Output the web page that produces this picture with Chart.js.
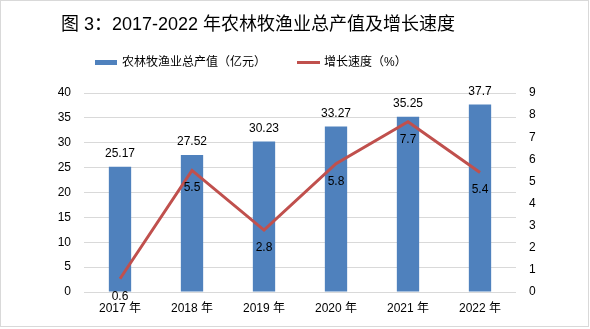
<!DOCTYPE html>
<html><head><meta charset="utf-8">
<script src="https://cdn.jsdelivr.net/npm/chart.js@4/dist/chart.umd.min.js"></script>
<style>html,body{margin:0;padding:0;background:#fff}#wrap{width:590px;height:329px}</style>
</head><body><div id="wrap"><canvas id="c" width="590" height="329"></canvas></div>
<script>
const categories = ['2017 年','2018 年','2019 年','2020 年','2021 年','2022 年'];
const outputValues = [25.17, 27.52, 30.23, 33.27, 35.25, 37.7];
const growthRates = [0.6, 5.5, 2.8, 5.8, 7.7, 5.4];
const titleText = '图 3：2017-2022 年农林牧渔业总产值及增长速度';
const barLabel = '农林牧渔业总产值（亿元）';
const lineLabel = '增长速度（%）';

const BAR = '#4f81bd', LINE = '#c0504d';
const NUM_FONT = '12px "Liberation Sans", Arial, sans-serif';
const CJK = '"Liberation Sans", "Noto Sans CJK SC", sans-serif';

const deco = {
  id:'deco',
  afterDraw(chart){
    const ctx = chart.ctx;
    ctx.save();
    ctx.strokeStyle = '#d9d9d9'; ctx.lineWidth = 1;
    ctx.strokeRect(0.5,0.5,588,326);
    // title
    ctx.fillStyle = '#000';
    ctx.font = '18px ' + CJK;
    ctx.textBaseline = 'middle'; ctx.textAlign = 'center';
    ctx.fillText(titleText, 258, 25);
    // legend
    ctx.font = '12px ' + CJK;
    ctx.textAlign = 'left';
    ctx.fillStyle = BAR; ctx.fillRect(95, 60, 22, 5);
    ctx.fillStyle = '#000'; ctx.fillText(barLabel, 122, 62.5);
    ctx.fillStyle = LINE; ctx.fillRect(297, 61, 23, 3);
    ctx.fillStyle = '#000'; ctx.fillText(lineLabel, 324, 62.5);
    // data labels
    ctx.font = NUM_FONT; ctx.textAlign = 'center';
    const m0 = chart.getDatasetMeta(0), m1 = chart.getDatasetMeta(1);
    m0.data.forEach((b,i)=>{ ctx.fillText(String(outputValues[i]), b.x, b.y - 13); });
    m1.data.forEach((p,i)=>{ ctx.fillText(String(growthRates[i]), p.x, p.y + 17.5); });
    ctx.restore();
  }
};

new Chart(document.getElementById('c'), {
  data:{
    labels: categories,
    datasets:[
      {type:'bar', label:barLabel, data:outputValues, backgroundColor:BAR, yAxisID:'y', barPercentage:0.31, categoryPercentage:1, order:2},
      {type:'line', label:lineLabel, data:growthRates, borderColor:LINE, borderWidth:3, pointRadius:0, tension:0, yAxisID:'y1', order:1}
    ]
  },
  options:{
    responsive:false, animation:false, devicePixelRatio:1,
    layout:{padding:{top:93,left:0,right:0,bottom:0}},
    plugins:{legend:{display:false}, title:{display:false}, tooltip:{enabled:false}},
    scales:{
      x:{grid:{display:false, drawTicks:false}, border:{display:false},
         ticks:{color:'#000', font:{family:'"Liberation Sans", "Noto Sans CJK SC", sans-serif', size:12}, padding:9, maxRotation:0},
         afterFit(s){ s.height = 37; }},
      y:{position:'left', min:0, max:40, grid:{color:'#d9d9d9', drawTicks:false}, border:{display:false},
         ticks:{stepSize:5, color:'#000', font:{family:'"Liberation Sans", Arial, sans-serif', size:12}, padding:13},
         afterFit(s){ s.width = 84; }},
      y1:{position:'right', min:0, max:9, grid:{display:false, drawTicks:false}, border:{display:false},
         ticks:{stepSize:1, color:'#000', font:{family:'"Liberation Sans", Arial, sans-serif', size:12}, padding:13},
         afterFit(s){ s.width = 74; }}
    }
  },
  plugins:[deco]
});
</script></body></html>
